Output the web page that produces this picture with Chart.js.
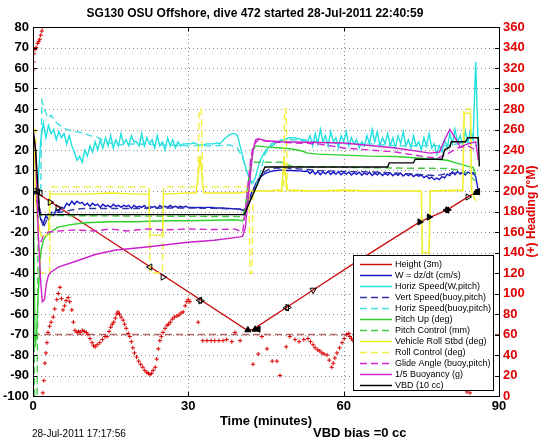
<!DOCTYPE html>
<html><head><meta charset="utf-8">
<script src="https://cdn.jsdelivr.net/npm/chart.js@4/dist/chart.umd.min.js"></script>
<style>html,body{margin:0;padding:0;background:#fff;}</style>
</head><body>
<canvas id="c" width="546" height="442"></canvas>
<script>
// ---------- text ----------
const chartTitle = 'SG130 OSU Offshore, dive 472 started 28-Jul-2011 22:40:59';
const xTitle = 'Time (minutes)';
const rightTitle = '(+) Heading (\u00B0M)';
const footLeft = '28-Jul-2011 17:17:56';
const footRight = 'VBD bias =0 cc';
const xTickValues = [0, 30, 60, 90];

// ---------- data ----------
const heightT = [0.2, 41.3, 42.5, 54.1, 62, 74.7, 80, 84, 86];
const heightV = [0, -67.8, -67.5, -48.3, -35.3, -15.1, -9.2, -2.9, 0];

const markT = [0.3, 0.9, 1.4, 3.3, 4.8, 22.6, 25.1, 32.2, 32.4, 41.5, 42.9, 43.5, 49.0, 49.2, 54.1, 74.7, 76.5, 79.9, 80.1, 84.0, 85.6, 85.9];
const markV = [0, -0.5, -1, -5.5, -8.2, -37.1, -42, -53.3, -53.6, -67.8, -67.5, -67.4, -57, -56.8, -48.3, -15.1, -12.7, -9.3, -9.2, -2.9, -0.8, -0.3];
const markDir = [-90, -90, -90, 90, 90, -90, 90, -90, 90, 0, 0, -90, -90, 90, 180, 90, 90, -90, 90, 90, 0, -90];
const markSolid = [0,0,0,0,0,0,0,0,0,1,1,1,0,0,0,1,1,1,1,0,1,1];

// noisy series on a half-minute grid (t = 0 .. 86)
const wSpeed = [
 0,-2,-8,-14,-16,-12,-14,-11,-12,-9,
 -10,-8,-8.5,-6,-7,-5,-6.5,-5,-6,-5.5,
 -7,-6,-7.5,-6,-7,-6.5,-8,-6.5,-7.5,-7,
 -8,-6.5,-7.5,-7,-8,-7,-7.5,-7,-8.5,-7,
 -8,-7.5,-8,-7,-8.5,-7.5,-8,-7.5,-8.5,-7,
 -8,-7.5,-8,-7,-8,-7.5,-8,-7.5,-8,-7.5,
 -8,-8,-8,-8.2,-8,-8,-8.1,-8,-8,-8,
 -8.2,-8.3,-8.3,-8.3,-8.4,-8.5,-8.5,-8.6,-8.6,-8.7,
 -8.8,-9.5,-8.5,-5.5,-2,0.5,3.5,5.5,7,8,
 8.7,9.2,9.6,9.9,10,10.2,10.2,10.1,10,10,
 10,9.9,9.8,9.8,9.7,9.5,9.7,8.5,9.8,8.2,
 9.5,8,9.3,8.4,9.6,8.1,9.2,8.3,9.4,7.9,
 9.1,8.2,9.3,7.8,8.9,8.1,9.2,7.7,8.8,8.0,
 9.1,7.6,8.7,7.9,8.9,7.5,8.6,7.7,8.8,7.4,
 8.5,7.6,8.7,7.3,8.4,7.5,8.3,7.0,8.0,7.2,
 7.8,6.5,7.4,6.0,6.8,5.5,6.3,5.6,7.0,6.4,
 8.2,7.5,9.3,8.0,9.5,8.2,9.0,7.8,9.2,8.5,
 9.0,7.0,0];
const horizSpeed = [
 0,0,5,25,33,26,32,28,30,25,
 29,26,28,23,27,22,19,15,17,14,
 20,17,22,19,24,20,25,21,26,22,
 27,21,25,22,28,23,25,22,27,24,
 24,22,28,22,26,23,25,21,27,22,
 24,20,26,22,25,21,24,22,23,23,
 23,23,23.5,23,22.5,22.5,22.5,23,23,23,
 23,23.5,23,24,25.5,26.5,27.5,28,28,27,
 22,17,12,8,5,4,7,12,15.5,18,
 20,21,22,22.5,23.5,24,24.5,25,25.5,26,
 26,26,25.5,25.5,25,25,24,27,22,28,
 23,30,24,27,22,29,24,26,21,27,
 24,29,22,26,23,25,21,24,22,27,
 23,30,24,29,22,26,23,28,22,26,
 21,27,23,29,22,25,21,27,22,24,
 20,26,22,28,21,23,18,22,19,25,
 21,28,23,30,24,27,22,29,24,30,
 25,63,20];

const vertBuoyT = [1,1.5,2,2.5,3,4,5,6,8,10,15,20,25,30,35,39,40,40.8,41.5,42.5,43.5,44.5,45.5,47,50,53,55,60,65,70,75,78,80,84,85.5];
const vertBuoyV = [-3,-12,-18,-15,-11,-10,-10.5,-10,-9,-8.5,-8.5,-8.5,-8.3,-8.3,-8.5,-8.7,-9.2,-9.5,-7,0,5.5,9,10.5,11.2,11,10.5,10,9.5,9.3,8.8,8,7.5,8.5,9,8];

const horizBuoyT = [1.5,1.7,2.3,2.9,3.5,4.2,5.2,6.5,8,9.7,11,12.4,14,16,20,25,30,35,38,39.5,40.5,41.5,42.3,43,43.8,44.8,46,48,50,55,60,65,70,75,80,84,85.5];
const horizBuoyV = [0,44,39.5,35.6,37,34,32,30,29,28.3,27,26.3,24,22.5,23,22.5,22,22,22.5,21,16,8,3,2,8,18,23,25,25,24,23,23,22,22,22,24,22];

const pitchT = [0,0.2,0.4,0.7,1,1.5,2,2.5,3,4,5,7,10,15,20,25,30,35,39,40.5,41,41.5,42,42.5,43,45,48,50,52,53,55,60,65,70,75,78,80,82,84,85,85.5];
const pitchV = [0,-30,-76,-70,-50,-30,-24,-22,-21,-19,-17.5,-16.5,-15.5,-15,-15,-14.5,-14.5,-14.3,-14,-14.5,-12,0,12,20,22,21.5,21,20.5,19.5,18.5,18,17.5,17,16.8,16,15.5,15,13.5,12,11.5,8];

const pitchCtlT = [0,0.3,0.8,1.0,3.9,40.5,41,41.5,42,42.5,48,49,50,60,70,80,83,85,85.5];
const pitchCtlV = [0,-100,-100,-12,-12,-12.5,-8,3,12,14,14,13,12,11.5,11.2,11,10,6,5];

const rollT = [0,0.3,0.5,1,1.5,2.5,3,3.3,10,15,20,22.4,22.6,25,25.2,30,31.5,32,32.3,32.7,33,40,42,45,48,48.5,49,55,60,65,70,75,75.2,76.5,76.7,83,83.3,84.5,84.7,85.5];
const rollV = [27,20,-5,-15,-22,-22,-20,-1.5,-1.5,-1,-1.5,-1.5,-21.5,-21.5,-1.5,-1,-1,10,17,5,-1,-1,0,0,0.5,17,0.5,0,0.5,0,0,0,-30,-30,0,0.5,38,38,0,-5];

const rollCtlT = [0,0.5,0.7,1.5,3.2,3.3,22.4,22.6,25,25.2,31.8,32.1,32.5,32.8,41.7,41.9,42.3,42.5,48.4,48.6,48.9,49.1,75,75.2,76.5,76.7,83,83.2,84.5,84.7,85.5];
const rollCtlV = [30,30,-10,-40,-40,2,2,-40,-40,2,2,40,40,2,2,-40,-40,0,0,40,40,0,0,-40,-40,0,0,40,40,0,0];

const glideT = [1.5,2,3,5,8,12,15,18,22,25,30,35,39,40,40.5,41,42,42.5,43.5,46,50,55,60,65,70,75,78,80,82,84,85.5];
const glideV = [-25,-22,-20,-19.5,-19,-19.5,-18.5,-19.5,-18.5,-19,-18.5,-18.8,-18.6,-19.5,-20,-10,15,22,25,24,23.5,23,21,20,19,17,16,18,21,22,20];

const buoyT = [0,0.5,1,1.5,1.8,2.2,2.6,3,3.5,5,8,12,16,22,30,35,40,40.5,41,41.5,42,42.5,43,43.5,45,48,60,70,76.7,78.5,79.5,80.5,81.5,82.5,84,85.5,86];
const buoyV = [31,20,-20,-45,-54,-53,-45,-41,-39.5,-37,-34.5,-31,-28.8,-27.3,-25,-24,-22.4,-22,-18,-5,8,20,25,25.5,24.5,24,23.4,21,18.5,19,25,30,26,21.5,23,24,15];

const vbdT = [0,0.5,1,1.3,40.8,44.8,68.5,68.8,73.5,73.8,79,79.5,80.5,80.8,83.5,84,86,86.2];
const vbdV = [30,20,0,-11.5,-11.5,11.7,11.7,13.7,13.7,15.5,15.5,20,21.5,24,24,26,26,12];

const headT = [0.05,0.1,0.15,0.4,0.6,0.9,1.1,1.3,1.5,1.7,1.85,
 1.9,2.1,2.3,2.5,2.7,2.9,3.2,3.5,3.9,4.2,4.6,4.9,5.2,5.5,5.8,6.1,6.4,6.8,7.1,7.5,7.8,8.1,8.5,8.8,9.1,9.5,9.9,10.3,10.6,11.0,11.4,11.7,12.0,12.4,12.9,13.4,13.9,14.3,14.7,15.0,15.3,15.6,15.9,16.2,16.4,16.7,17.0,17.4,17.7,18.0,18.4,18.7,19.0,19.3,19.6,20.0,20.4,20.8,21.2,21.6,22.0,22.3,22.6,22.9,23.2,23.6,23.9,24.2,24.5,24.8,25.1,25.5,25.9,26.2,26.5,26.9,27.3,27.8,28.2,28.6,29.0,29.4,29.7,30.0,30.3,
 31.9,32.8,33.6,34.4,35.1,35.9,36.7,37.4,38.4,39.0,40.0,42.5,43.5,44.2,45.2,46.2,47.1,47.7,48.9,49.6,50.6,51.4,52.3,
 53.1,53.6,54.1,54.5,55.0,55.4,55.8,56.2,56.8,57.2,57.7,58.0,58.3,58.7,59.2,59.7,60.1,60.6,61.0,61.2,61.5,61.8,
 83.8,84.4];
const headH = [318,326,334,338,340,344,346,348,352,356,360,
 3,15,32,42,52,62,68,72,77,85,94,100,106,95,84,88,93,96,92,84,72,64,62,63,62,64,63,62,60,56,52,49,48,50,52,55,58,58,63,67,70,72,76,80,82,80,77,74,70,66,61,58,53,47,42,38,34,31,28,25,23,22,21,22,25,28,36,46,54,58,62,66,69,70,72,75,77,78,79,81,82,88,92,94,92,
 72,54,54,54,54,54,54,55,53,62,54,31,41,58,46,34,34,20,48,58,55,53,55,
 56,53,50,47,45,44,42,41,40,35,28,32,37,42,47,52,56,60,61,58,56,54,
 4,3];

const targetHeadT = [0, 90];
const targetHeadH = [60, 60];

// ---------- build ----------
const pts = (T, V) => T.map((t, i) => ({x: t, y: V[i]}));
const gridPts = V => V.map((v, i) => ({x: i * 0.5, y: v}));
const FONT = '"Liberation Sans", Arial, Helvetica, sans-serif';
Chart.defaults.font.family = FONT;

function lineDs(label, data, color, dash, order) {
  return {label, data, borderColor: color, backgroundColor: color, borderDash: dash || [],
    borderWidth: 1.4, pointRadius: 0, fill: false, tension: 0, inLegend: true, order};
}

const datasets = [
  {label: 'marks', data: pts(markT, markV), showLine: false, pointStyle: 'triangle',
   pointRadius: 3.6, rotation: markDir, borderColor: '#000', borderWidth: 1,
   backgroundColor: markSolid.map(s => s ? '#000' : 'rgba(0,0,0,0)'), order: -20},
  {label: 'heading', data: pts(headT, headH), yAxisID: 'y2', showLine: false, pointStyle: 'cross',
   pointRadius: 2.1, borderColor: '#d80000', borderWidth: 1, order: -19},
  {label: 'target', data: pts(targetHeadT, targetHeadH), yAxisID: 'y2', borderColor: '#b86a6a',
   borderDash: [7, 4], borderWidth: 1.4, pointRadius: 0, order: 5},
  lineDs('Height (3m)', pts(heightT, heightV), '#cc1010', [], -1),
  lineDs('W = dz/dt (cm/s)', gridPts(wSpeed), '#1515c8', [], -2),
  lineDs('Horiz Speed(W,pitch)', gridPts(horizSpeed), '#22e0e0', [], -3),
  lineDs('Vert Speed(buoy,pitch)', pts(vertBuoyT, vertBuoyV), '#3535a8', [7, 4], -4),
  lineDs('Horiz Speed(buoy,pitch)', pts(horizBuoyT, horizBuoyV), '#40dede', [7, 4], -5),
  lineDs('Pitch Up (deg)', pts(pitchT, pitchV), '#2ed02e', [], -6),
  lineDs('Pitch Control (mm)', pts(pitchCtlT, pitchCtlV), '#45c845', [7, 4], -7),
  lineDs('Vehicle Roll Stbd (deg)', pts(rollT, rollV), '#eeee22', [], -8),
  lineDs('Roll Control (deg)', pts(rollCtlT, rollCtlV), '#f2f040', [7, 4], -9),
  lineDs('Glide Angle (buoy,pitch)', pts(glideT, glideV), '#d028d0', [7, 4], -10),
  lineDs('1/5 Buoyancy (g)', pts(buoyT, buoyV), '#cc22cc', [], -11),
  lineDs('VBD (10 cc)', pts(vbdT, vbdV), '#000000', [], -12),
];

const gridPlugin = {
  id: 'gridPlugin',
  beforeDatasetsDraw(chart) {
    const {ctx, chartArea: a, scales} = chart;
    ctx.save();
    ctx.strokeStyle = '#8a8a8a'; ctx.lineWidth = 1; ctx.setLineDash([1, 3]);
    scales.y.ticks.forEach(t => {
      const y = Math.round(scales.y.getPixelForValue(t.value)) + 0.5;
      ctx.beginPath(); ctx.moveTo(a.left, y); ctx.lineTo(a.right, y); ctx.stroke();
    });
    scales.x.ticks.forEach(t => {
      const x = Math.round(scales.x.getPixelForValue(t.value)) + 0.5;
      ctx.beginPath(); ctx.moveTo(x, a.top); ctx.lineTo(x, a.bottom); ctx.stroke();
    });
    ctx.restore();
  },
  afterDatasetsDraw(chart) {
    const {ctx, chartArea: a, scales} = chart;
    ctx.save();
    ctx.setLineDash([]); ctx.strokeStyle = '#000'; ctx.lineWidth = 1;
    ctx.strokeRect(Math.round(a.left) + 0.5, Math.round(a.top) + 0.5,
      Math.round(a.right - a.left), Math.round(a.bottom - a.top));
    ctx.beginPath();
    scales.y.ticks.forEach(t => {
      const y = Math.round(scales.y.getPixelForValue(t.value)) + 0.5;
      ctx.moveTo(a.left, y); ctx.lineTo(a.left + 4, y);
    });
    scales.y2.ticks.forEach(t => {
      const y = Math.round(scales.y2.getPixelForValue(t.value)) + 0.5;
      ctx.moveTo(a.right, y); ctx.lineTo(a.right - 4, y);
    });
    scales.x.ticks.forEach(t => {
      const x = Math.round(scales.x.getPixelForValue(t.value)) + 0.5;
      ctx.moveTo(x, a.bottom); ctx.lineTo(x, a.bottom - 4);
      ctx.moveTo(x, a.top); ctx.lineTo(x, a.top + 4);
    });
    ctx.stroke();
    ctx.restore();
  },
  afterDraw(chart) {
    const {ctx, chartArea: a} = chart;
    ctx.save();
    ctx.fillStyle = '#000'; ctx.textAlign = 'center'; ctx.textBaseline = 'middle';
    ctx.font = 'bold 12px ' + FONT;
    ctx.fillText(chartTitle, 255, 14);
    ctx.save();
    ctx.translate(532, (a.top + a.bottom) / 2);
    ctx.rotate(-Math.PI / 2);
    ctx.fillStyle = '#e00000'; ctx.font = 'bold 12px ' + FONT;
    ctx.fillText(rightTitle, 0, 0);
    ctx.restore();
    ctx.textAlign = 'left'; ctx.fillStyle = '#000';
    ctx.font = '10px ' + FONT; ctx.fillText(footLeft, 32, 434);
    ctx.font = 'bold 13px ' + FONT; ctx.fillText(footRight, 313, 433);
    const items = chart.data.datasets.filter(d => d.inLegend);
    const lx = 353, ly = 255, lw = 140, lh = 135;
    ctx.fillStyle = '#fff'; ctx.fillRect(lx, ly, lw, lh);
    ctx.strokeStyle = '#000'; ctx.lineWidth = 1; ctx.strokeRect(lx + 0.5, ly + 0.5, lw, lh);
    ctx.font = '9px ' + FONT; ctx.textBaseline = 'middle';
    items.forEach((d, i) => {
      const y = ly + 9 + i * 11;
      ctx.beginPath(); ctx.setLineDash(d.borderDash); ctx.strokeStyle = d.borderColor; ctx.lineWidth = 1.5;
      ctx.moveTo(lx + 7, y + 0.5); ctx.lineTo(lx + 39, y + 0.5); ctx.stroke();
      ctx.setLineDash([]); ctx.fillStyle = '#000'; ctx.fillText(d.label, lx + 42, y + 0.5);
    });
    ctx.restore();
  }
};

new Chart(document.getElementById('c'), {
  type: 'line',
  data: {datasets},
  options: {
    responsive: false, animation: false, devicePixelRatio: 1,
    layout: {padding: {top: 27, bottom: 9, left: 0, right: 0}},
    plugins: {legend: {display: false}, tooltip: {enabled: false}, title: {display: false}},
    scales: {
      x: {type: 'linear', min: 0, max: 90,
        afterBuildTicks: s => { s.ticks = xTickValues.map(v => ({value: v})); },
        grid: {display: false, drawTicks: false}, border: {display: false},
        ticks: {color: '#000', font: {size: 13, weight: 'bold'}, padding: 3, maxRotation: 0},
        title: {display: true, text: xTitle, color: '#000', font: {size: 13, weight: 'bold'}, padding: {top: 2, bottom: 4}},
        afterFit: s => { s.height = 37; }},
      y: {type: 'linear', position: 'left', min: -100, max: 80,
        grid: {display: false, drawTicks: false}, border: {display: false},
        ticks: {stepSize: 10, color: '#000', font: {size: 13, weight: 'bold'}, padding: 4},
        afterFit: s => { s.width = 33; }},
      y2: {type: 'linear', position: 'right', min: 0, max: 360,
        grid: {display: false, drawTicks: false}, border: {display: false},
        ticks: {stepSize: 20, color: '#e00000', font: {size: 13, weight: 'bold'}, padding: 4},
        afterFit: s => { s.width = 47; }}
    }
  },
  plugins: [gridPlugin]
});
</script>
</body></html>
